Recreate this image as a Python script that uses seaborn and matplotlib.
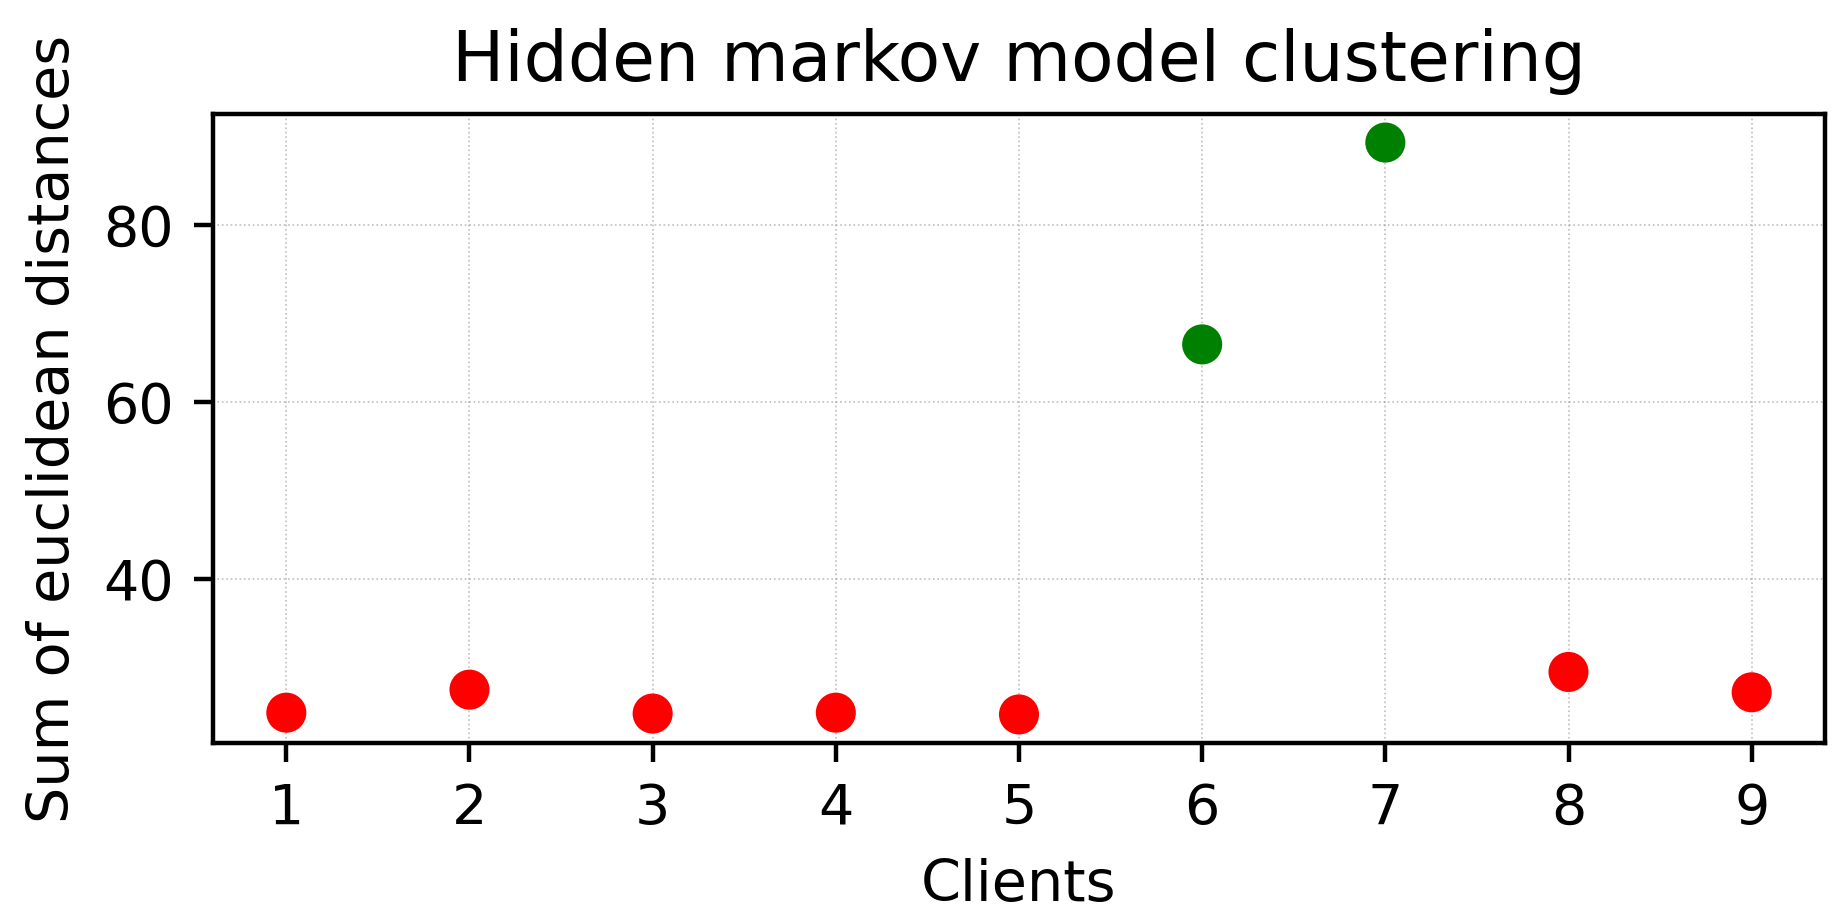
import numpy as np
import pandas as pd
import seaborn as sns
import matplotlib.pyplot as plt

# values
clients = [1, 2, 3, 4, 5, 6, 7, 8, 9]
distances = [24.9, 27.5, 24.8, 24.9, 24.7, 66.5, 89.3, 29.5, 27.2]
cluster = ['low', 'low', 'low', 'low', 'low', 'high', 'high', 'low', 'low']

df = pd.DataFrame({'client': clients, 'dist': distances, 'cluster': cluster})

fig = plt.figure(figsize=(1843 / 400, 922 / 400), dpi=400)
ax = fig.add_axes([0.1156, 0.1941, 0.9902 - 0.1156, 0.8764 - 0.1941])

sns.scatterplot(data=df, x='client', y='dist', hue='cluster',
                palette={'low': 'red', 'high': 'green'},
                s=52, linewidth=0, legend=False, ax=ax, zorder=3)

ax.grid(True, linestyle=':', linewidth=0.3, color='gray', alpha=0.5)
ax.set_axisbelow(True)
ax.set_xticks(clients)
ax.set_yticks([40, 60, 80])
ax.tick_params(labelsize=10)
ax.set_xlabel('Clients', fontsize=10.3)
ax.set_ylabel('Sum of euclidean distances', fontsize=10.3)
ax.set_title('Hidden markov model clustering', fontsize=12.5)

fig.savefig('out.png', dpi=400)
